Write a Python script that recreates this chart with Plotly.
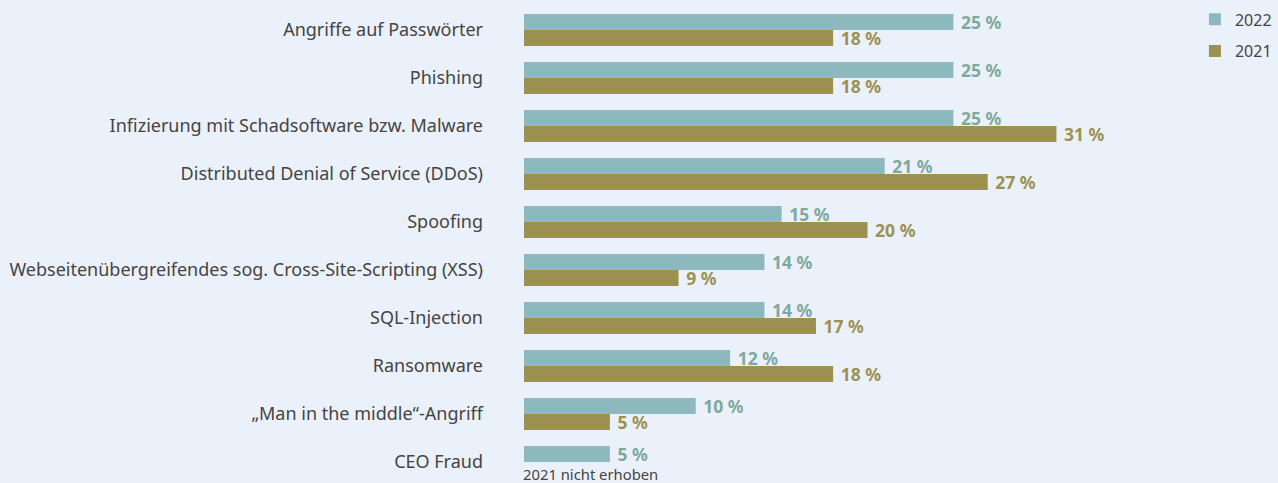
import plotly.graph_objects as go

categories = [
    "Angriffe auf Passwörter",
    "Phishing",
    "Infizierung mit Schadsoftware bzw. Malware",
    "Distributed Denial of Service (DDoS)",
    "Spoofing",
    "Webseitenübergreifendes sog. Cross-Site-Scripting (XSS)",
    "SQL-Injection",
    "Ransomware",
    "„Man in the middle“-Angriff",
    "CEO Fraud",
]
values_2022 = [25, 25, 25, 21, 15, 14, 14, 12, 10, 5]
values_2021 = [18, 18, 31, 27, 20, 9, 17, 18, 5, None]
note_text = "2021 nicht erhoben"

c2022 = "#8db8bd"
c2021 = "#9c9150"
t2022 = "#7fa99a"
t2021 = "#9c9150"
bg = "#ebf1fb"
font_family = "Noto Sans, Open Sans, sans-serif"

def labels(vals):
    return [" %d %%" % v if v is not None else "" for v in vals]

fig = go.Figure()
fig.add_trace(go.Bar(
    y=categories, x=values_2022, orientation="h", name="2022",
    marker=dict(color=c2022, line=dict(width=0)),
    text=labels(values_2022), textposition="outside", constraintext="none",
    textfont=dict(color=t2022, size=17.5, family=font_family, weight="bold"),
    cliponaxis=False, legendgroup="a",
))
fig.add_trace(go.Bar(
    y=categories, x=values_2021, orientation="h", name="2021",
    marker=dict(color=c2021, line=dict(width=0)),
    text=labels(values_2021), textposition="outside", constraintext="none",
    textfont=dict(color=t2021, size=17.5, family=font_family, weight="bold"),
    cliponaxis=False, legendgroup="b",
))

fig.add_annotation(
    x=0, y=categories[-1], xref="x", yref="y", yshift=-12,
    text=note_text, showarrow=False, xanchor="left", yanchor="middle", xshift=-3,
    font=dict(size=14.8, color="#444444", family=font_family),
)

fig.update_layout(
    width=1278, height=483,
    margin=dict(l=524, r=0, t=0, b=0, autoexpand=False),
    paper_bgcolor=bg, plot_bgcolor=bg,
    barmode="group", bargap=1/3, bargroupgap=0,
    font=dict(family=font_family, size=17, color="#444444"),
    showlegend=True,
    legend=dict(
        xref="container", yref="container",
        x=0.935, y=0.995, xanchor="left", yanchor="top",
        font=dict(size=16, color="#444444"), tracegroupgap=8,
        bgcolor="rgba(0,0,0,0)", itemwidth=30,
    ),
    uniformtext=dict(mode=False),
)
fig.update_xaxes(range=[0, 43.9], visible=False, showgrid=False, zeroline=False, automargin=False)
fig.update_yaxes(
    range=[9.4375, -0.625], showgrid=False, zeroline=False, showline=False, automargin=False,
    ticks="", ticklabelstandoff=40, tickfont=dict(size=18, color="#444444"),
)

fig.write_html(
    "out.html",
    config={"displayModeBar": False},
    post_script="document.body.style.margin='0';document.body.style.background='%s';" % bg,
)
